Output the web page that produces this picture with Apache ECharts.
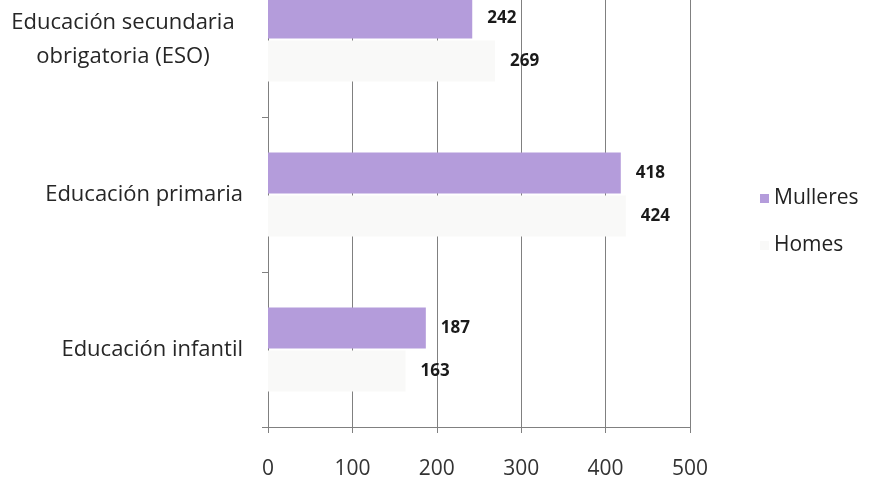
<!DOCTYPE html>
<html>
<head>
<meta charset="utf-8">
<script src="https://cdn.jsdelivr.net/npm/echarts@6/dist/echarts.min.js"></script>
<style>html,body{margin:0;padding:0;background:#fff;overflow:hidden;width:872px;height:483px}#c{width:872px;height:521px;position:absolute;left:0;top:-38px}</style>
</head>
<body>
<div id="c"></div>
<script>
const categories = ['Educación infantil', 'Educación primaria', 'Educación secundaria\nobrigatoria (ESO)'];
const mulleres = [187, 418, 242];
const homes = [163, 424, 269];
const xTicks = [0, 100, 200, 300, 400, 500];

const chart = echarts.init(document.getElementById('c'));
const font = '"Open Sans", Lato, sans-serif';
const lbl = {
  show: true, position: 'right', distance: 15,
  fontFamily: font, fontWeight: 'bold', fontSize: 17, color: '#1a1a1a'
};
chart.setOption({
  animation: false,
  grid: { left: 268, right: 182, top: 0, bottom: 56 },
  legend: {
    orient: 'vertical', left: 755, top: 221, itemGap: 26,
    itemWidth: 9, itemHeight: 9, icon: 'rect',
    data: ['Mulleres', 'Homes'],
    textStyle: { fontFamily: font, fontSize: 21, color: '#222' }
  },
  xAxis: {
    type: 'value', min: xTicks[0], max: xTicks[xTicks.length - 1], interval: 100,
    axisLine: { show: true, lineStyle: { color: '#808080', width: 1 } },
    axisTick: { show: true, length: 6, lineStyle: { color: '#808080' } },
    splitLine: { show: true, lineStyle: { color: '#808080', width: 1 } },
    axisLabel: { margin: 32, fontFamily: font, fontSize: 21, color: '#333' }
  },
  yAxis: {
    type: 'category', data: categories,
    axisLine: { show: true, lineStyle: { color: '#808080', width: 1 } },
    axisTick: { show: true, length: 6, lineStyle: { color: '#808080' } },
    axisLabel: {
      margin: 25, fontFamily: font, fontSize: 22, color: '#262626', lineHeight: 34,
      formatter: function (v) {
        return v.indexOf('\n') >= 0 ? v.split('\n').map(function (s) { return '{c|' + s + '}'; }).join('\n') : v;
      },
      rich: { c: { width: 240, align: 'center', fontFamily: font, fontSize: 22, color: '#262626', lineHeight: 34 } }
    }
  },
  series: [
    { name: 'Mulleres', type: 'bar', data: mulleres, barWidth: 41, barGap: '5%',
      itemStyle: { color: '#b49cdb' }, label: lbl },
    { name: 'Homes', type: 'bar', data: homes, barWidth: 41, barGap: '5%',
      itemStyle: { color: '#f9f9f8' }, label: lbl }
  ]
});
</script>
</body>
</html>
